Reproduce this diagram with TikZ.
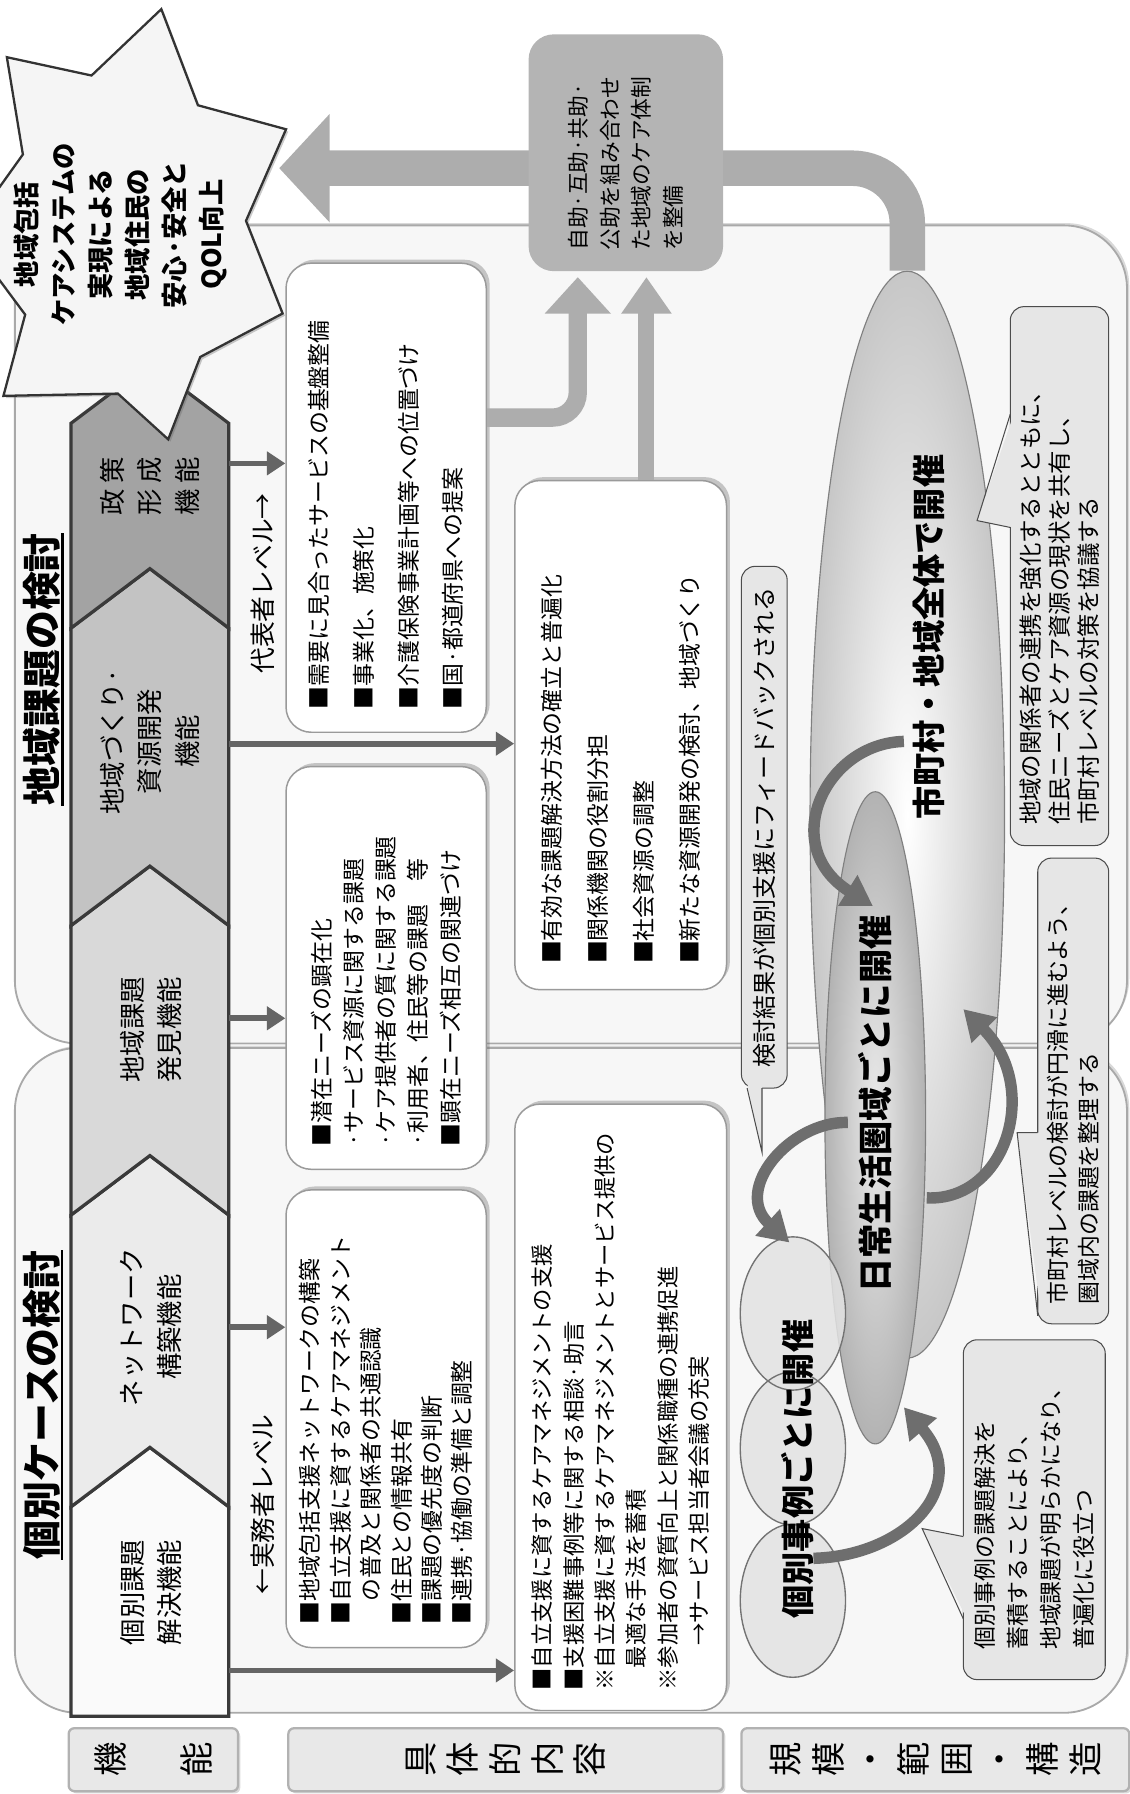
\documentclass[tikz,border=0pt]{standalone}
\usepackage{fontspec}
\setmainfont{Noto Sans CJK JP}
\usetikzlibrary{arrows.meta,shadows,calc,shapes.geometric}
\definecolor{regfill}{HTML}{F7F7F7}
\definecolor{regline}{HTML}{A9A9A9}
\definecolor{bandgray}{HTML}{ADADAD}
\definecolor{jifill}{HTML}{B4B4B4}
\definecolor{darkarr}{HTML}{656565}
\definecolor{curvarr}{HTML}{6E6E6E}
\definecolor{chevline}{HTML}{3A3A3A}
\definecolor{chA}{HTML}{A3A3A3}
\definecolor{chB}{HTML}{C3C3C3}
\definecolor{chC}{HTML}{D9D9D9}
\definecolor{chD}{HTML}{EBEBEB}
\definecolor{chE}{HTML}{FAFAFA}
\definecolor{callfill}{HTML}{E6E6E6}
\definecolor{boxline}{HTML}{9A9A9A}
\definecolor{starfill}{HTML}{F5F5F5}
\begin{document}
\begin{tikzpicture}[x=1pt,y=-1pt,
  region/.style={fill=regfill, draw=regline, line width=1.6pt, rounded corners=55pt,
    drop shadow={shadow xshift=2pt, shadow yshift=2pt, opacity=0.3, fill=black!50}},
  cbox/.style={draw=boxline, fill=white, line width=1.3pt, rounded corners=22pt,
    drop shadow={shadow xshift=3pt, shadow yshift=3pt, opacity=0.35, fill=black!60}},
  ctext/.style={rotate=90, align=left, inner sep=0pt},
  chev/.style={draw=chevline, line width=2.8pt, line join=miter},
  chtext/.style={rotate=90, align=center, inner sep=0pt, font=\fontsize{23}{32.5}\selectfont},
  darr/.style={draw=darkarr, line width=5pt, -{Triangle[width=20pt,length=16pt]}},
  upband/.style={draw=bandgray, -{Triangle[width=56pt,length=32pt]}},
  carr/.style={draw=curvarr, line width=10pt, -{Triangle[width=30pt,length=26pt]}},
  callout/.style={draw=black!70, fill=callfill, line width=0.9pt, rounded corners=12pt},
  callptr/.style={draw=black!70, line width=0.9pt},
  lbox/.style={draw=black!30, fill=black!9, line width=2pt, rounded corners=5pt,
    drop shadow={shadow xshift=2pt, shadow yshift=-2pt, opacity=0.3, fill=black!50}},
  bigtxt/.style={rotate=90, inner sep=0pt, font=\bfseries\fontsize{29}{34}\selectfont},
]
\useasboundingbox (0,0) rectangle (987,1568);

% ---------- regions ----------
\draw[region] (13,197) rectangle (985,912);
\draw[region] (13,916) rectangle (985,1497);

% ---------- ellipses ----------
\node[ellipse, minimum width=170pt, minimum height=950pt, inner color=white, outer color=black!22,
      draw=black!50, line width=1pt] (e1) at (793,712) {};
\node[ellipse, minimum width=88pt, minimum height=570pt, inner color=black!8, outer color=black!30,
      draw=black!50, line width=1pt] (e2) at (765,977) {};
\node[bigtxt] (e1t) at (812,557) {市町村・地域全体で開催};
\node[bigtxt, font=\bfseries\fontsize{30}{34}\selectfont] (e2t) at (765,965) {日常生活圏域ごとに開催};

\foreach \n/\yy in {s3/1399, s2/1266, s1/1148}{
  \node[ellipse, minimum width=92pt, minimum height=134pt, fill=black!11, opacity=0.85] (\n) at (693,\yy) {};
}
\foreach \yy in {1399,1266,1148}{
  \draw[black!55, line width=1.2pt] (693,\yy) ellipse [x radius=46, y radius=67];
}
\node[bigtxt] (s1t) at (697,1284) {個別事例ごとに開催};

% ---------- big band to goal ----------
\coordinate (goaltip) at (244,147);
\draw[draw=bandgray, line width=31pt, rounded corners=48pt, -{Triangle[width=92pt,length=44pt]}]
  (e1.north) -- (793,147) -- (goaltip);

% ---------- 自助 box ----------
\node[fill=jifill, rounded corners=22pt, minimum width=170pt, minimum height=207pt, inner sep=0pt] (jb) at (547,133.5) {};
\node[ctext, text width=171pt, font=\fontsize{19}{27.5}\selectfont] (jbt) at (jb.center)
  {自助·互助·共助·\\公助を組み合わせ\\た地域のケア体制\\を整備};

% ---------- content boxes ----------
\node[cbox, minimum width=175pt, minimum height=410pt] (p1) at (337.5,435) {};
\node[ctext, text width=370pt, font=\fontsize{20}{39}\selectfont] (p1t) at (p1.center)
  {■需要に見合ったサービスの基盤整備\\■事業化、施策化\\■介護保険事業計画等への位置づけ\\■国·都道府県への提案};

\node[cbox, minimum width=175pt, minimum height=352pt] (p2) at (337.5,846) {};
\node[ctext, text width=312pt, font=\fontsize{20}{28}\selectfont] (p2t) at (p2.center)
  {■潜在ニーズの顕在化\\·サービス資源に関する課題\\·ケア提供者の質に関する課題\\·利用者、住民等の課題　等\\■顕在ニーズ相互の関連づけ};

\node[cbox, minimum width=175pt, minimum height=400pt] (p3) at (337.5,1240) {};
\node[ctext, text width=360pt, font=\fontsize{20}{26.6}\selectfont] (p3t) at (p3.center)
  {■地域包括支援ネットワークの構築\\■自立支援に資するケアマネジメント\\　の普及と関係者の共通認識\\■住民との情報共有\\■課題の優先度の判断\\■連携·協働の準備と調整};

\node[cbox, minimum width=185pt, minimum height=445pt] (q1) at (542.5,642.5) {};
\node[ctext, text width=400pt, font=\fontsize{20}{40}\selectfont] (q1t) at (q1.center)
  {■有効な課題解決方法の確立と普遍化\\■関係機関の役割分担\\■社会資源の調整\\■新たな資源開発の検討、地域づくり};

\node[cbox, minimum width=185pt, minimum height=530pt] (q2) at (542.5,1230) {};
\node[ctext, text width=495pt, font=\fontsize{19.5}{27.4}\selectfont] (q2t) at (q2.center)
  {■自立支援に資するケアマネジメントの支援\\■支援困難事例等に関する相談·助言\\※自立支援に資するケアマネジメントとサービス提供の\\　最適な手法を蓄積\\※参加者の資質向上と関係職種の連携促進\\　　→サービス担当者会議の充実};

% ---------- up arrows to 自助 box ----------
\draw[upband, line width=16pt, rounded corners=22pt, shorten >=5pt]
  (p1.east |- 0,365) -- (505,365) -- (505,0 |- jb.south);
\draw[upband, line width=14pt, -{Triangle[width=42pt,length=32pt]}, shorten >=5pt]
  (565,0 |- q1.north) -- (565,0 |- jb.south);

% ---------- chevrons ----------
\filldraw[chev, fill=chE] (62,1317) -- (131,1265) -- (200,1317) -- (200,1500) -- (62,1500) -- cycle;
\filldraw[chev, fill=chD] (62,1062) -- (131,1010) -- (200,1062) -- (200,1317) -- (131,1265) -- (62,1317) -- cycle;
\filldraw[chev, fill=chC] (62,809) -- (131,757) -- (200,809) -- (200,1062) -- (131,1010) -- (62,1062) -- cycle;
\filldraw[chev, fill=chB] (62,549) -- (131,497) -- (200,549) -- (200,809) -- (131,757) -- (62,809) -- cycle;
\filldraw[chev, fill=chA] (62,370) -- (131,318) -- (200,370) -- (200,549) -- (131,497) -- (62,549) -- cycle;

\node[chtext] (f1) at (131,425) {政\hspace{5pt}策\\形\hspace{5pt}成\\機\hspace{5pt}能};
\node[chtext] (f2) at (131,648) {地域づくり·\\資源開発\\機能};
\node[chtext] (f3) at (132,900) {地域課題\\発見機能};
\node[chtext] (f4) at (132,1160) {ネットワーク\\構築機能};
\node[chtext] (f5) at (132,1392) {個別課題\\解決機能};

\coordinate (k1) at (200,405);
\coordinate (k2) at (200,650);
\coordinate (k3) at (200,890);
\coordinate (k4) at (200,1160);
\coordinate (k5) at (200,1460);
\draw[darr] (k1) -- (p1.west |- k1);
\draw[darr] (k2) -- (q1.west |- k2);
\draw[darr] (k3) -- (p2.west |- k3);
\draw[darr] (k4) -- (p3.west |- k4);
\draw[darr] (k5) -- (q2.west |- k5);

\node[rotate=90, inner sep=0pt, font=\fontsize{22.5}{26}\selectfont] (lvA) at (230,510) {代表者レベル→};
\node[rotate=90, inner sep=0pt, font=\fontsize{22.5}{26}\selectfont] (lvB) at (230,1315) {←実務者レベル};

% ---------- star ----------
\filldraw[fill=starfill, draw=black!80, line width=2pt,
  drop shadow={shadow xshift=2pt, shadow yshift=-2pt, opacity=0.35, fill=black!60}]
  (141,8) -- (173,92) -- (250,113) -- (215,193) -- (247,274) -- (175,312) -- (147,384)
  -- (103,344) -- (3,346) -- (22,275) -- (-30,205) -- (20,135) -- (6,50) -- (80,66) -- cycle;
\node[rotate=90, align=center, inner sep=0pt, font=\bfseries\fontsize{23}{32.4}\selectfont] (goal) at (105,205)
  {地域包括\\ケアシステムの\\実現による\\地域住民の\\安心·安全と\\QOL向上};

% ---------- curved arrows ----------
\coordinate (a1s) at (790,648);  \coordinate (a1e) at (763,792);
\coordinate (a2s) at (741,981);  \coordinate (a2e) at (690,1086);
\coordinate (a3s) at (711,1362); \coordinate (a3e) at (790,1230);
\coordinate (a4s) at (810,1047); \coordinate (a4e) at (842,882);
\draw[carr] (a1s) .. controls (720,650) and (680,740) .. (a1e);
\draw[carr] (a2s) .. controls (690,980) and (640,1040) .. (a2e);
\draw[carr] (a3s) .. controls (790,1360) and (850,1300) .. (a3e);
\draw[carr] (a4s) .. controls (880,1050) and (910,950) .. (a4e);

% ---------- callouts ----------
\node[callout, minimum width=40pt, minimum height=456pt] (c1) at (668,723) {};
\fill[callfill] (653,946) -- (666,1007) -- (666,946) -- cycle;
\draw[callptr] (653,951) -- (666,1007) -- (666,951);
\node[ctext, text width=420pt, font=\fontsize{21}{24}\selectfont] (c1t) at (c1.center)
  {検討結果が個別支援にフィードバックされる};

\node[callout, minimum width=86pt, minimum height=471pt] (c2) at (926,503.5) {};
\fill[callfill] (886,362) -- (854,455) -- (886,461) -- cycle;
\draw[callptr] (883,362) -- (854,455) -- (883,461);
\node[ctext, text width=435pt, font=\fontsize{20.5}{25.5}\selectfont] (c2t) at (c2.center)
  {地域の関係者の連携を強化するとともに、\\住民ニーズとケア資源の現状を共有し、\\市町村レベルの対策を協議する};

\node[callout, minimum width=62pt, minimum height=407pt] (c3) at (938,953.5) {};
\fill[callfill] (910,990) -- (889,990) -- (910,1150) -- cycle;
\draw[callptr] (907,990) -- (889,990) -- (907,1150);
\node[ctext, text width=373pt, font=\fontsize{20}{27}\selectfont] (c3t) at (c3.center)
  {市町村レベルの検討が円滑に進むよう、\\圏域内の課題を整理する};

\node[callout, minimum width=124pt, minimum height=297pt] (c4) at (904,1319.5) {};
\fill[callfill] (845,1343) -- (806,1336) -- (845,1415) -- cycle;
\draw[callptr] (842,1343) -- (806,1336) -- (842,1415);
\node[ctext, text width=245pt, font=\fontsize{20}{28.7}\selectfont] (c4t) at (c4.center)
  {個別事例の課題解決を\\蓄積することにより、\\地域課題が明らかになり、\\普遍化に役立つ};

% ---------- titles ----------
\node[rotate=90, inner sep=0pt, font=\bfseries\fontsize{34}{40}\selectfont] (ttlA) at (37,585) {地域課題の検討};
\draw[line width=2pt] ($(ttlA.south west)+(1,0)$) -- ($(ttlA.south east)+(1,0)$);
\node[rotate=90, inner sep=0pt, font=\bfseries\fontsize{34}{40}\selectfont] (ttlB) at (37,1228) {個別ケースの検討};
\draw[line width=2pt] ($(ttlB.south west)+(1,0)$) -- ($(ttlB.south east)+(1,0)$);

% ---------- bottom labels ----------
\node[lbox, minimum width=148pt, minimum height=55pt] (l1) at (134,1538) {};
\node[rotate=90, align=center, inner sep=0pt, font=\fontsize{30}{75}\selectfont] (l1t) at (l1.center) {機\\能};
\node[lbox, minimum width=380pt, minimum height=55pt] (l2) at (442,1538) {};
\node[rotate=90, align=center, inner sep=0pt, font=\fontsize{30}{37}\selectfont] (l2t) at (l2.center) {具\\体\\的\\内\\容};
\node[lbox, minimum width=339pt, minimum height=55pt] (l3) at (817.5,1538) {};
\node[rotate=90, align=center, inner sep=0pt, font=\fontsize{30}{37.5}\selectfont] (l3t) at (l3.center) {規\\模\\・\\範\\囲\\・\\構\\造};
\end{tikzpicture}
\end{document}
